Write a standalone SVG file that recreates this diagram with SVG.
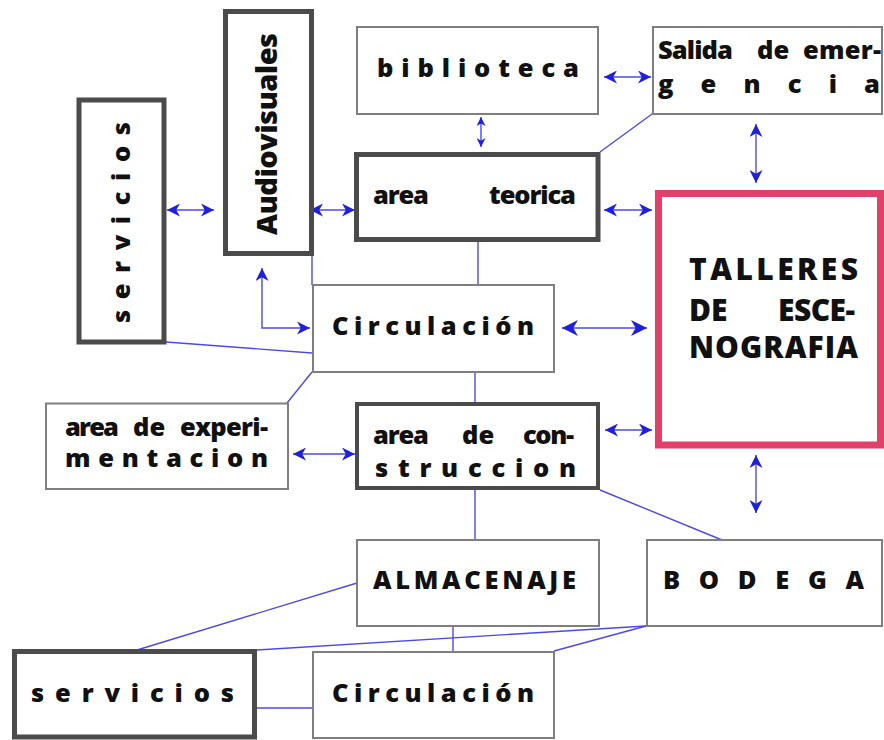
<svg xmlns="http://www.w3.org/2000/svg" width="884" height="740" viewBox="0 0 884 740">
<style>
.thin{fill:#fff;stroke:#7f7f7f;stroke-width:2}
.thick{fill:#fff;stroke:#4b4b4b;stroke-width:5}
.pink{fill:#fff;stroke:#e0406a;stroke-width:7}
.t{font-family:"Open Sans","Noto Sans","DejaVu Sans",sans-serif;font-weight:800;font-size:25.5px;fill:#111}
.big{font-size:30px}
.av{font-size:29px}
.c{fill:none;stroke:#4b4be0;stroke-width:1.4}
.a{marker-start:url(#ah);marker-end:url(#ah)}
.as{marker-start:url(#ahs);marker-end:url(#ahs)}
.al{marker-start:url(#ahl);marker-end:url(#ahl)}
</style>
<defs>
<marker id="ah" viewBox="0 0 12 12" refX="12" refY="6" markerWidth="13" markerHeight="13" markerUnits="userSpaceOnUse" orient="auto-start-reverse"><path d="M0,0 L12,6 L0,12 L3.5,6 Z" fill="#2020d8"/></marker>
<marker id="ahs" viewBox="0 0 12 12" refX="12" refY="6" markerWidth="9" markerHeight="9" markerUnits="userSpaceOnUse" orient="auto-start-reverse"><path d="M0,0 L12,6 L0,12 L3.5,6 Z" fill="#2020d8"/></marker>
<marker id="ahl" viewBox="0 0 12 12" refX="12" refY="6" markerWidth="16" markerHeight="16" markerUnits="userSpaceOnUse" orient="auto-start-reverse"><path d="M0,0 L12,6 L0,12 L3.5,6 Z" fill="#2020d8"/></marker>
</defs>
<rect width="884" height="740" fill="#fff"/>
<g id="connectors">
<line class="c a" x1="167" y1="210" x2="214" y2="210"/>
<line class="c a" x1="310" y1="210" x2="355" y2="210"/>
<line class="c a" x1="604" y1="77" x2="651" y2="77"/>
<line class="c as" x1="481" y1="117" x2="481" y2="147"/>
<line class="c a" x1="756" y1="124" x2="756" y2="183"/>
<line class="c a" x1="604" y1="210" x2="652" y2="210"/>
<path class="c a" d="M262,268 L262,328 L310,328"/>
<line class="c al" x1="562" y1="328" x2="647" y2="328"/>
<line class="c a" x1="293" y1="454" x2="355" y2="454"/>
<line class="c a" x1="605" y1="430" x2="652" y2="430"/>
<line class="c a" x1="756" y1="455" x2="756" y2="513"/>
<line class="c" x1="312" y1="254" x2="312" y2="285"/>
<line class="c" x1="478" y1="241" x2="478" y2="285"/>
<line class="c" x1="600" y1="152" x2="652" y2="114"/>
<line class="c" x1="166" y1="342" x2="312" y2="353"/>
<line class="c" x1="312" y1="372" x2="287" y2="403"/>
<line class="c" x1="475" y1="372" x2="475" y2="403"/>
<line class="c" x1="600" y1="490" x2="722" y2="540"/>
<line class="c" x1="475" y1="490" x2="475" y2="540"/>
<line class="c" x1="357" y1="583" x2="137" y2="650"/>
<line class="c" x1="257" y1="650" x2="646" y2="626"/>
<line class="c" x1="554" y1="651" x2="646" y2="626"/>
<line class="c" x1="453" y1="626" x2="453" y2="652"/>
<line class="c" x1="257" y1="708" x2="313" y2="708"/>
</g>
<g id="servicios-v">
<rect class="thick" x="79" y="100" width="85" height="242"/>
<text class="t" transform="translate(130,323) rotate(-90)" textLength="201" lengthAdjust="spacing">servicios</text>
</g>
<g id="audiovisuales">
<rect class="thick" x="225.5" y="11.5" width="86" height="242"/>
<text class="t av" transform="translate(277,235) rotate(-90)" textLength="202" lengthAdjust="spacing">Audiovisuales</text>
</g>
<g id="biblioteca">
<rect class="thin" x="357" y="27" width="241" height="87"/>
<text class="t" x="377" y="77" textLength="202" lengthAdjust="spacing">biblioteca</text>
</g>
<g id="salida">
<rect class="thin" x="653" y="27" width="229" height="87"/>
<text class="t"><tspan x="658" y="59" textLength="75" lengthAdjust="spacing">Salida</tspan><tspan x="757" y="59">de</tspan><tspan x="803" y="59" textLength="78" lengthAdjust="spacing">emer-</tspan></text>
<text class="t" x="658" y="93" textLength="222" lengthAdjust="spacing">gencia</text>
</g>
<g id="area-teorica">
<rect class="thick" x="356.5" y="154.5" width="241.5" height="85"/>
<text class="t"><tspan x="373" y="204" textLength="56" lengthAdjust="spacing">area</tspan><tspan x="489" y="204" textLength="87" lengthAdjust="spacing">teorica</tspan></text>
</g>
<g id="talleres">
<rect class="pink" x="658.5" y="193.5" width="222" height="251.5"/>
<text class="t big" x="689" y="280" textLength="169" lengthAdjust="spacing">TALLERES</text>
<text class="t big"><tspan x="689" y="321">DE</tspan><tspan x="778" y="321" textLength="77" lengthAdjust="spacing">ESCE-</tspan></text>
<text class="t big" x="689" y="358" textLength="169" lengthAdjust="spacing">NOGRAFIA</text>
</g>
<g id="circulacion">
<rect class="thin" x="313" y="285" width="241" height="87"/>
<text class="t" x="332" y="335" textLength="202" lengthAdjust="spacing">Circulación</text>
</g>
<g id="experimentacion">
<rect class="thin" x="46" y="403.5" width="242" height="85.5"/>
<text class="t"><tspan x="65" y="436" textLength="54" lengthAdjust="spacing">area</tspan><tspan x="133" y="436">de</tspan><tspan x="180" y="436" textLength="88" lengthAdjust="spacing">experi-</tspan></text>
<text class="t" x="65" y="467" textLength="203" lengthAdjust="spacing">mentacion</text>
</g>
<g id="construccion">
<rect class="thick" x="357" y="404" width="241" height="84" style="stroke-width:4"/>
<text class="t"><tspan x="373" y="444" textLength="56" lengthAdjust="spacing">area</tspan><tspan x="462" y="444">de</tspan><tspan x="523" y="444" textLength="51" lengthAdjust="spacing">con-</tspan></text>
<text class="t" x="375" y="477" textLength="201" lengthAdjust="spacing">struccion</text>
</g>
<g id="almacenaje">
<rect class="thin" x="357" y="540" width="242" height="86"/>
<text class="t" x="373" y="589" textLength="203" lengthAdjust="spacing">ALMACENAJE</text>
</g>
<g id="bodega">
<rect class="thin" x="647" y="540" width="235" height="86"/>
<text class="t" x="663" y="589" textLength="201" lengthAdjust="spacing">BODEGA</text>
</g>
<g id="servicios-h">
<rect class="thick" x="14.5" y="651.5" width="240" height="85.5"/>
<text class="t" x="31" y="702" textLength="203" lengthAdjust="spacing">servicios</text>
</g>
<g id="circulacion-2">
<rect class="thin" x="313" y="652" width="241" height="86"/>
<text class="t" x="332" y="702" textLength="202" lengthAdjust="spacing">Circulación</text>
</g>
</svg>
